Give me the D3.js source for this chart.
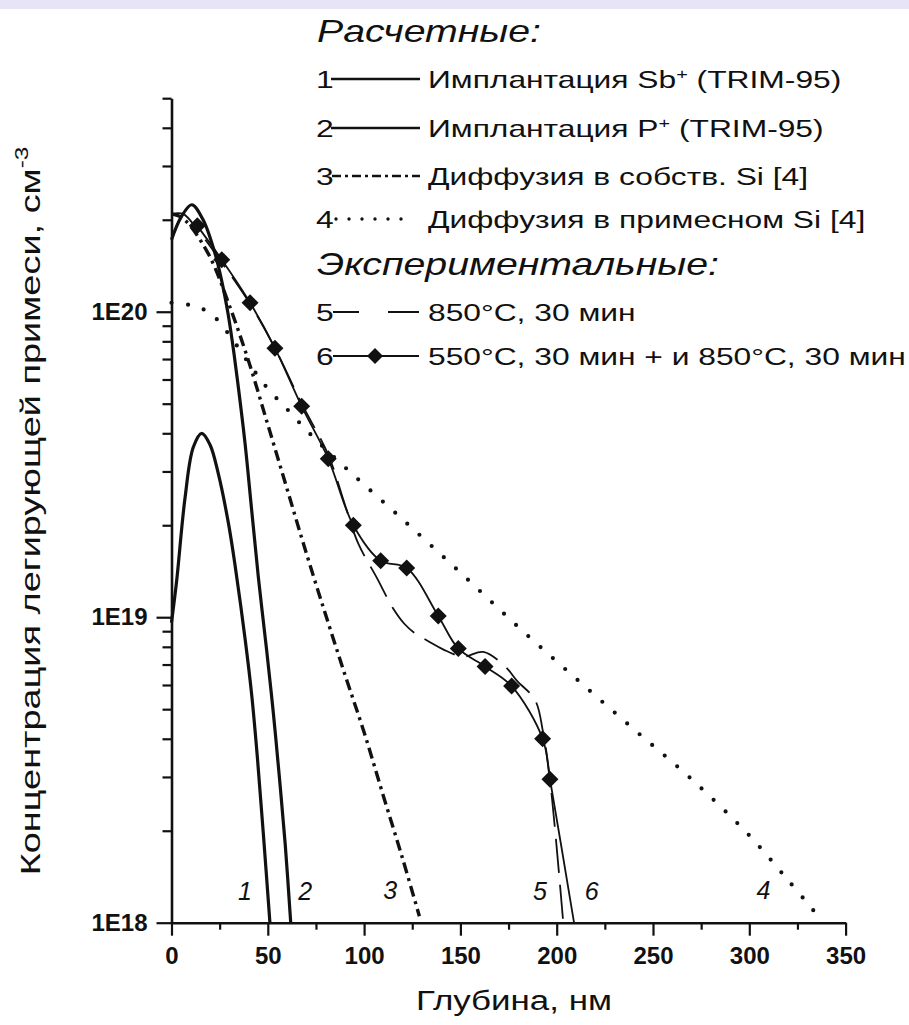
<!DOCTYPE html>
<html><head><meta charset="utf-8">
<script src="https://cdn.jsdelivr.net/npm/d3@7/dist/d3.min.js"></script>
<style>
body{margin:0;background:#fff}
svg{display:block}
text{font-family:"Liberation Sans",Arial,sans-serif;fill:#111}
</style>
</head><body>
<svg id="chart" width="909" height="1025"></svg>
<script>
// ---------- DATA (depth in nm, concentration in cm^-3) ----------
// 1: implantation Sb+ (TRIM-95)
const depthSb = [0, 2.7, 7, 11.3, 15.7, 20, 24.3, 29.5, 33, 38.2, 41.6, 44.6, 47.7, 51.1];
const concSb  = [9.6e18, 1.32e19, 2.45e19, 3.6e19, 4.0e19, 3.67e19, 2.95e19, 2.04e19, 1.48e19, 8.5e18, 5.6e18, 3.47e18, 1.95e18, 1.0e18];
// 2: implantation P+ (TRIM-95)
const depthP = [0, 5, 10.5, 16.4, 22.6, 26.1, 29.3, 31.8, 34.2, 38.2, 41.6, 45.1, 49.4, 52.9, 56, 59, 61.9];
const concP  = [1.72e20, 2.04e20, 2.24e20, 2.0e20, 1.55e20, 1.26e20, 9.9e19, 7.8e19, 6.0e19, 3.7e19, 2.25e19, 1.35e19, 7.8e18, 4.84e18, 3.0e18, 1.82e18, 1.0e18];
// 3: diffusion in intrinsic Si
const depthIntr = [0, 5, 10, 20, 30, 40, 50, 60, 70, 80, 90, 100, 110, 120, 128.7];
const concIntr  = [2.09e20, 2.04e20, 1.9e20, 1.51e20, 1.05e20, 6.9e19, 4.27e19, 2.63e19, 1.62e19, 1.02e19, 6.5e18, 4.2e18, 2.6e18, 1.62e18, 1.05e18];
// 4: diffusion in doped Si
const depthDoped = [0, 10, 20, 30, 40, 50, 60, 70, 80, 92.7, 120, 150, 180, 210, 240, 270, 300, 320, 335.3];
const concDoped  = [1.07e20, 1.05e20, 9.9e19, 8.4e19, 6.8e19, 5.6e19, 4.8e19, 4.1e19, 3.55e19, 2.99e19, 2.09e19, 1.4e19, 9.3e18, 6.3e18, 4.3e18, 2.95e18, 1.93e18, 1.38e18, 1.06e18];
// 5: experiment 850°C, 30 min
const depthExp5 = [0, 6, 13.4, 26.1, 40.8, 53.7, 67.6, 81.4, 90, 97, 106.5, 115, 121, 126, 134, 141, 151.5, 161.9, 173.2, 179.3, 188.8, 193, 196.5, 203.4];
const concExp5  = [2.09e20, 2.09e20, 1.86e20, 1.45e20, 1.06e20, 7.6e19, 5.0e19, 3.4e19, 2.34e19, 1.74e19, 1.35e19, 1.07e19, 9.5e18, 8.9e18, 8.3e18, 7.85e18, 7.43e18, 7.7e18, 6.9e18, 6.2e18, 5.35e18, 4.17e18, 2.95e18, 1.0e18];
// 6: experiment 550°C + 850°C (markers), and end of its line
const depthExp6 = [13.4, 26.1, 40.8, 53.7, 67.6, 81.4, 94.4, 108.6, 122.1, 138.5, 148.9, 162.8, 176.6, 192.7, 196.5];
const concExp6  = [1.91e20, 1.48e20, 1.07e20, 7.6e19, 4.9e19, 3.3e19, 2.0e19, 1.53e19, 1.45e19, 1.01e19, 7.9e18, 6.9e18, 5.95e18, 4.0e18, 2.95e18];
const depthExp6End = [209];
const concExp6End  = [1.0e18];

// ticks and texts
const xTicks = [0, 50, 100, 150, 200, 250, 300, 350];
const xMinorTicks = [25, 75, 125, 175, 225, 275, 325];
const yTicks = [1e18, 1e19, 1e20];
const yTickLabels = ["1E18", "1E19", "1E20"];
const yMinorTicks = [2e18,3e18,4e18,5e18,6e18,7e18,8e18,9e18,2e19,3e19,4e19,5e19,6e19,7e19,8e19,9e19,2e20,3e20,4e20,5e20];
const xTitle = "Глубина, нм";
const yTitle = "Концентрация легирующей примеси, см";
const yTitleSup = "-3";
const legendHeads = ["Расчетные:", "Экспериментальные:"];
const legendNums = ["1", "2", "3", "4", "5", "6"];
const legendTexts = [
  [["Имплантация Sb"], ["+", "sup"], [" (TRIM-95)"]],
  [["Имплантация P"], ["+", "sup"], [" (TRIM-95)"]],
  [["Диффузия в собств. Si [4]"]],
  [["Диффузия в примесном Si [4]"]],
  [["850°C, 30 мин"]],
  [["550°C, 30 мин + и 850°C, 30 мин"]]
];
const curveLabels = ["1", "2", "3", "4", "5", "6"];

// ---------- LAYOUT ----------
const svg = d3.select("#chart");
const x = d3.scaleLinear().domain([0, 350]).range([171.5, 845.6]);
const y = d3.scaleLog().domain([1e18, 5e20]).range([922.7, 98.2]);

svg.append("rect").attr("x",0).attr("y",0).attr("width",909).attr("height",9).attr("fill","#e7e5f5");

const zip = (a, b) => a.map((v, i) => [v, b[i]]);
const line = d3.line().x(d => x(d[0])).y(d => y(d[1])).curve(d3.curveCatmullRom.alpha(0.5));

// curves
const g = svg.append("g").attr("fill", "none").attr("stroke", "#111");
g.append("path").attr("d", line(zip(depthDoped, concDoped)))
  .attr("stroke-width", 4.2).attr("stroke-linecap", "round").attr("stroke-dasharray", "0,16.5");
g.append("path").attr("d", line(zip(depthIntr, concIntr)))
  .attr("stroke-width", 3.4).attr("stroke-dasharray", "11,5,3,5");
g.append("path").attr("d", line(zip(depthSb, concSb))).attr("stroke-width", 3.2);
g.append("path").attr("d", line(zip(depthP, concP))).attr("stroke-width", 3.2);
g.append("path").attr("d", line(zip(depthExp5, concExp5)))
  .attr("stroke-width", 1.8).attr("stroke-dasharray", "34,12");
g.append("path").attr("d", line(zip(depthExp6.concat(depthExp6End), concExp6.concat(concExp6End))))
  .attr("stroke-width", 1.8);

const diamond = (cx, cy, r) => `M${cx},${cy - r}L${cx + r},${cy}L${cx},${cy + r}L${cx - r},${cy}Z`;
svg.append("g").selectAll("path").data(zip(depthExp6, concExp6)).join("path")
  .attr("d", d => diamond(x(d[0]), y(d[1]), 8.5)).attr("fill", "#111");

// axes
svg.append("g").attr("transform", `translate(0,${y(1e18)})`)
  .call(d3.axisBottom(x).tickValues(xTicks).tickSize(13).tickSizeOuter(0).tickPadding(11).tickFormat(d3.format("d")));
svg.append("g").attr("transform", `translate(0,${y(1e18)})`)
  .call(d3.axisBottom(x).tickValues(xMinorTicks).tickSize(7).tickSizeOuter(0).tickFormat(""))
  .select(".domain").remove();
svg.append("g").attr("transform", `translate(${x(0)},0)`)
  .call(d3.axisLeft(y).tickValues(yTicks).tickSize(15).tickSizeOuter(0).tickPadding(9).tickFormat((d, i) => yTickLabels[i]));
svg.append("g").attr("transform", `translate(${x(0)},0)`)
  .call(d3.axisLeft(y).tickValues(yMinorTicks).tickSize(9).tickSizeOuter(0).tickFormat(""))
  .select(".domain").remove();
svg.selectAll(".domain").attr("stroke", "#111").attr("stroke-width", 2.6);
svg.selectAll(".tick line").attr("stroke", "#111").attr("stroke-width", 2.2);
svg.selectAll(".tick text").attr("font-family", "'Liberation Sans',Arial,sans-serif")
  .attr("font-weight", "bold").attr("font-size", 24).attr("fill", "#111");

// fitting helpers: stretch text horizontally
function scaleFor(sel, width) { return width / sel.node().getComputedTextLength(); }
function place(sel, tx, ty, k, extra) {
  sel.attr("transform", `translate(${tx},${ty}) ${extra || ""} scale(${k},1)`);
}

// axis titles
const xt = svg.append("text").attr("font-size", 28).text(xTitle);
place(xt, 416, 1010, scaleFor(xt, 196));
const yt = svg.append("text").attr("font-size", 28).attr("text-anchor", "middle");
yt.append("tspan").text(yTitle);
yt.append("tspan").attr("font-size", 18).attr("dy", -12).text(yTitleSup);
place(yt, 40, 511, scaleFor(yt, 729), "rotate(-90)");

// curve labels
const labelPos = [[38.2, 1.27e18], [69.4, 1.27e18], [113.5, 1.28e18], [307.3, 1.28e18], [191.3, 1.27e18], [218.2, 1.27e18]];
svg.append("g").selectAll("text").data(curveLabels).join("text")
  .attr("x", (d, i) => x(labelPos[i][0])).attr("y", (d, i) => y(labelPos[i][1]) + 9)
  .attr("text-anchor", "middle").attr("font-style", "italic").attr("font-size", 25).text(d => d);

// legend headers (same stretch for both)
const headY = [42, 275];
const headTexts = legendHeads.map(h => svg.append("text").attr("font-size", 31).attr("font-style", "italic").text(h));
const kHead = scaleFor(headTexts[0], 224);
headTexts.forEach((t, i) => place(t, 317, headY[i], kHead));

// legend rows (same stretch for all rows)
const rowY = [79, 128, 176, 219, 312, 356];
const rowTexts = legendTexts.map(parts => {
  const t = svg.append("text").attr("font-size", 24);
  let sup = false;
  parts.forEach(p => {
    if (p[1] === "sup") { t.append("tspan").attr("font-size", 15).attr("dy", -9).text(p[0]); sup = true; }
    else { t.append("tspan").attr("dy", sup ? 9 : 0).text(p[0]); sup = false; }
  });
  return t;
});
const kRow = scaleFor(rowTexts[5], 478);
rowTexts.forEach((t, i) => place(t, 428, rowY[i] + 8.5, kRow));
legendNums.forEach((n, i) => {
  const t = svg.append("text").attr("font-size", 24).text(n);
  place(t, 316, rowY[i] + 8.5, kRow);
});
const lg = svg.append("g").attr("stroke", "#111").attr("fill", "none");
lg.append("line").attr("x1", 331).attr("x2", 420).attr("y1", rowY[0]).attr("y2", rowY[0]).attr("stroke-width", 2.6);
lg.append("line").attr("x1", 331).attr("x2", 420).attr("y1", rowY[1]).attr("y2", rowY[1]).attr("stroke-width", 2.6);
lg.append("line").attr("x1", 332).attr("x2", 420).attr("y1", rowY[2]).attr("y2", rowY[2]).attr("stroke-width", 2.6).attr("stroke-dasharray", "9,4,3,4");
lg.append("line").attr("x1", 336).attr("x2", 414).attr("y1", rowY[3]).attr("y2", rowY[3]).attr("stroke-width", 3.4).attr("stroke-linecap", "round").attr("stroke-dasharray", "0,13");
lg.append("line").attr("x1", 333).attr("x2", 419).attr("y1", rowY[4]).attr("y2", rowY[4]).attr("stroke-width", 2).attr("stroke-dasharray", "26,29,31");
lg.append("line").attr("x1", 333).attr("x2", 419).attr("y1", rowY[5]).attr("y2", rowY[5]).attr("stroke-width", 2);
svg.append("path").attr("d", diamond(375, rowY[5], 8)).attr("fill", "#111");
</script>
</body></html>
